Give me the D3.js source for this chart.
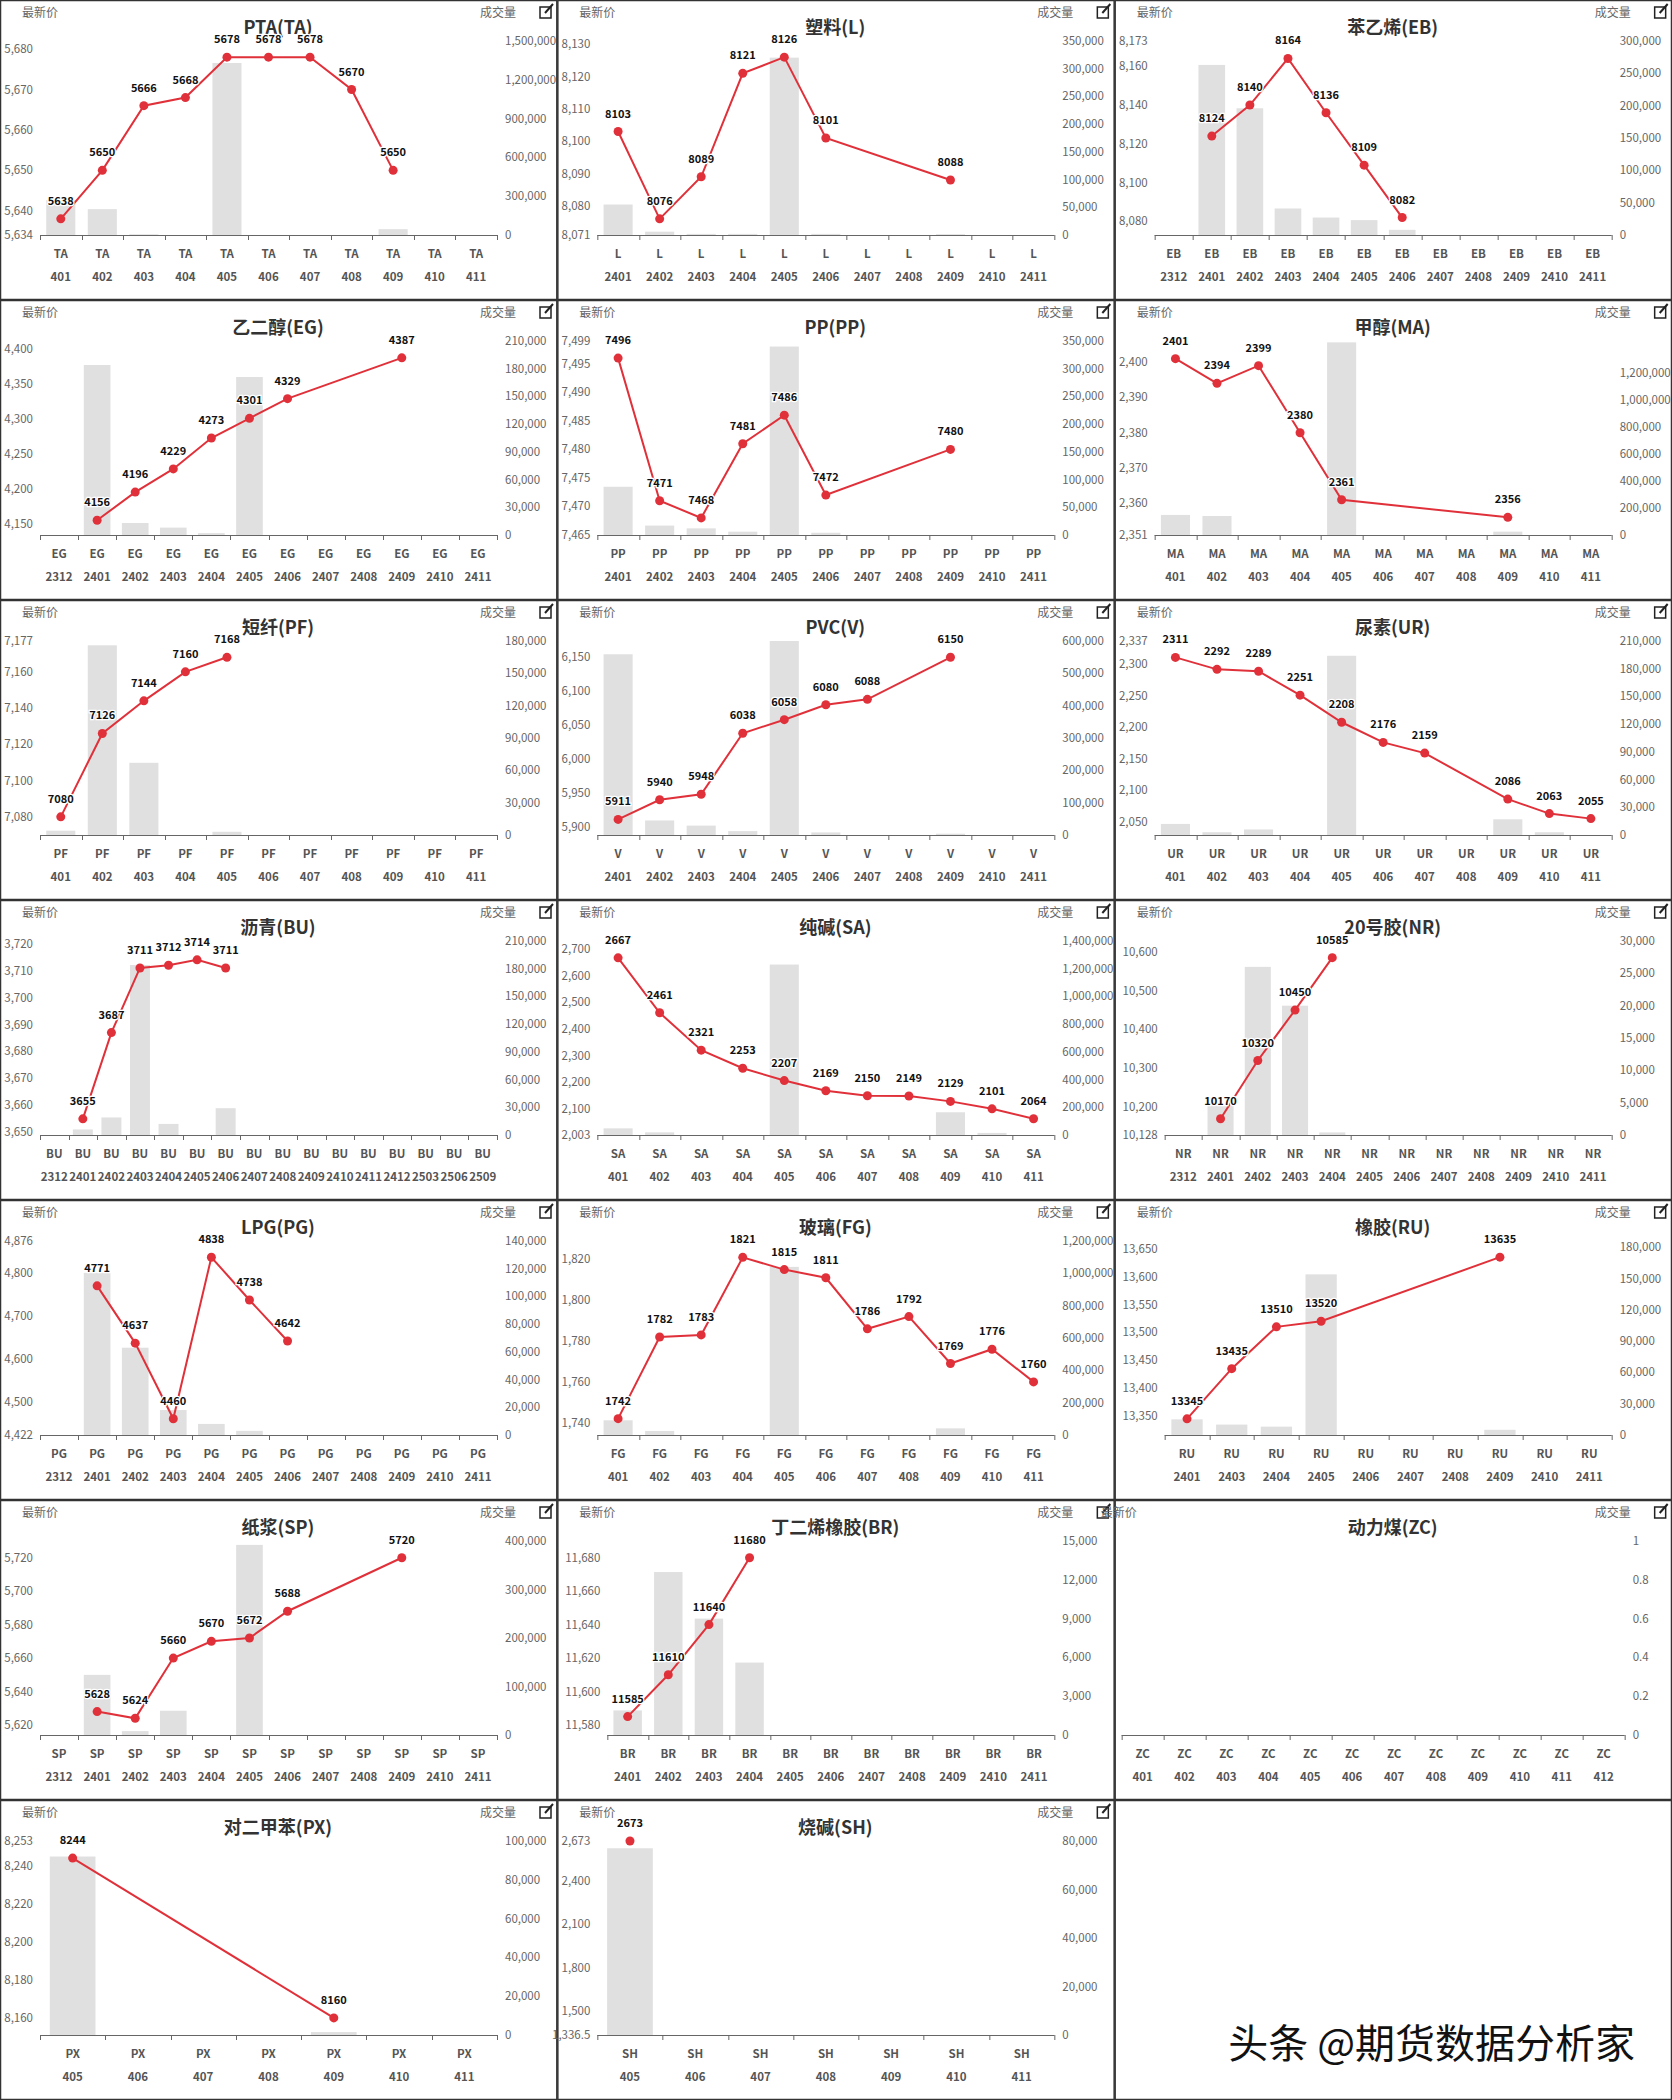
<!DOCTYPE html>
<html><head><meta charset="utf-8">
<script src="https://cdn.jsdelivr.net/npm/d3@7/dist/d3.min.js"></script>
<style>
body{margin:0;background:#fff;font-family:"Noto Sans CJK SC","Noto Sans",sans-serif;}
</style></head>
<body><svg id="chart" width="1672" height="2100"></svg>
<script>
// months per panel
const m401_411 = ['401','402','403','404','405','406','407','408','409','410','411'];
const m2401_2411 = ['2401','2402','2403','2404','2405','2406','2407','2408','2409','2410','2411'];
const m2312_2411 = ['2312'].concat(m2401_2411);
const mBU = ['2312','2401','2402','2403','2404','2405','2406','2407','2408','2409','2410','2411','2412','2503','2506','2509'];
const mRU = ['2401','2403','2404','2405','2406','2407','2408','2409','2410','2411'];
const mZC = m401_411.concat(['412']);
const m405_411 = ['405','406','407','408','409','410','411'];

// latest price (null = no trade) and volume
const taPrice = [5638,5650,5666,5668,5678,5678,5678,5670,5650,null,null];
const taVol = [270000,200000,6000,0,1330000,0,0,0,45000,0,0];
const lPrice = [8103,8076,8089,8121,8126,8101,null,null,8088,null,null];
const lVol = [55000,6000,2000,2000,320000,2000,0,0,1500,0,0];
const ebPrice = [null,8124,8140,8164,8136,8109,8082,null,null,null,null,null];
const ebVol = [0,263000,196000,41000,27000,23000,8000,0,0,0,0,0];
const egPrice = [null,4156,4196,4229,4273,4301,4329,null,null,4387,null,null];
const egVol = [0,184000,13000,8000,2000,171000,0,0,0,0,0,0];
const ppPrice = [7496,7471,7468,7481,7486,7472,null,null,7480,null,null];
const ppVol = [87000,17000,12000,6000,340000,4000,0,0,0,0,0];
const maPrice = [2401,2394,2399,2380,2361,null,null,null,2356,null,null];
const maVol = [149000,141000,0,0,1430000,0,0,0,25000,0,0];
const pfPrice = [7080,7126,7144,7160,7168,null,null,null,null,null,null];
const pfVol = [4000,176000,67000,0,3000,0,0,0,0,0,0];
const vPrice = [5911,5940,5948,6038,6058,6080,6088,null,6150,null,null];
const vVol = [559000,45000,29000,12000,600000,8000,0,0,4000,0,0];
const urPrice = [2311,2292,2289,2251,2208,2176,2159,null,2086,2063,2055];
const urVol = [12000,3000,6000,0,194000,0,0,0,17000,3000,0];
const buPrice = [null,3655,3687,3711,3712,3714,3711,null,null,null,null,null,null,null,null,null];
const buVol = [0,6000,19000,184000,12000,0,29000,0,0,0,0,0,0,0,0,0];
const saPrice = [2667,2461,2321,2253,2207,2169,2150,2149,2129,2101,2064];
const saVol = [48000,19000,0,0,1230000,0,0,0,164000,15000,0];
const nrPrice = [null,10170,10320,10450,10585,null,null,null,null,null,null,null];
const nrVol = [0,4600,26000,20000,400,0,0,0,0,0,0,0];
const pgPrice = [null,4771,4637,4460,4838,4738,4642,null,null,null,null,null];
const pgVol = [0,117000,63000,18000,8000,3000,0,0,0,0,0,0];
const fgPrice = [1742,1782,1783,1821,1815,1811,1786,1792,1769,1776,1760];
const fgVol = [91000,25000,0,0,1040000,0,0,0,41000,0,0];
const ruPrice = [13345,13435,13510,13520,null,null,null,13635,null,null];
const ruVol = [15000,10000,8000,154000,0,0,0,5000,0,0];
const spPrice = [null,5628,5624,5660,5670,5672,5688,null,null,5720,null,null];
const spVol = [0,124000,8000,50000,0,392000,0,0,0,0,0,0];
const brPrice = [11585,11610,11640,11680,null,null,null,null,null,null,null];
const brVol = [1900,12600,9000,5600,0,0,0,0,0,0,0];
const zcPrice = [null,null,null,null,null,null,null,null,null,null,null,null];
const zcVol = [0,0,0,0,0,0,0,0,0,0,0,0];
const pxPrice = [8244,null,null,null,8160,null,null];
const pxVol = [92000,0,0,0,1500,0,0];
const shPrice = [2673,null,null,null,null,null,null];
const shVol = [77000,0,0,0,0,0,0];

// axis ranges and tick labels
const panels = [
  {t:'PTA(TA)',c:'TA',m:m401_411,p:taPrice,v:taVol,ld:[5634,5682],lt:[5634,5640,5650,5660,5670,5680],rd:1500000,rt:[0,300000,600000,900000,1200000,1500000]},
  {t:'塑料(L)',c:'L',m:m2401_2411,p:lPrice,v:lVol,ld:[8071,8131],lt:[8071,8080,8090,8100,8110,8120,8130],rd:350000,rt:[0,50000,100000,150000,200000,250000,300000,350000]},
  {t:'苯乙烯(EB)',c:'EB',m:m2312_2411,p:ebPrice,v:ebVol,ld:[8073,8173],lt:[8080,8100,8120,8140,8160,8173],rd:300000,rt:[0,50000,100000,150000,200000,250000,300000]},
  {t:'乙二醇(EG)',c:'EG',m:m2312_2411,p:egPrice,v:egVol,ld:[4135,4411],lt:[4150,4200,4250,4300,4350,4400],rd:210000,rt:[0,30000,60000,90000,120000,150000,180000,210000]},
  {t:'PP(PP)',c:'PP',m:m2401_2411,p:ppPrice,v:ppVol,ld:[7465,7499],lt:[7465,7470,7475,7480,7485,7490,7495,7499],rd:350000,rt:[0,50000,100000,150000,200000,250000,300000,350000]},
  {t:'甲醇(MA)',c:'MA',m:m401_411,p:maPrice,v:maVol,ld:[2351,2406],lt:[2351,2360,2370,2380,2390,2400],rd:1440000,rt:[0,200000,400000,600000,800000,1000000,1200000]},
  {t:'短纤(PF)',c:'PF',m:m401_411,p:pfPrice,v:pfVol,ld:[7070,7177],lt:[7080,7100,7120,7140,7160,7177],rd:180000,rt:[0,30000,60000,90000,120000,150000,180000]},
  {t:'PVC(V)',c:'V',m:m2401_2411,p:vPrice,v:vVol,ld:[5888,6174],lt:[5900,5950,6000,6050,6100,6150],rd:600000,rt:[0,100000,200000,300000,400000,500000,600000]},
  {t:'尿素(UR)',c:'UR',m:m401_411,p:urPrice,v:urVol,ld:[2029,2337],lt:[2050,2100,2150,2200,2250,2300,2337],rd:210000,rt:[0,30000,60000,90000,120000,150000,180000,210000]},
  {t:'沥青(BU)',c:'BU',m:mBU,p:buPrice,v:buVol,ld:[3649,3721],lt:[3650,3660,3670,3680,3690,3700,3710,3720],rd:210000,rt:[0,30000,60000,90000,120000,150000,180000,210000]},
  {t:'纯碱(SA)',c:'SA',m:m401_411,p:saPrice,v:saVol,ld:[2003,2730],lt:[2003,2100,2200,2300,2400,2500,2600,2700],rd:1400000,rt:[0,200000,400000,600000,800000,1000000,1200000,1400000]},
  {t:'20号胶(NR)',c:'NR',m:m2312_2411,p:nrPrice,v:nrVol,ld:[10128,10628],lt:[10128,10200,10300,10400,10500,10600],rd:30000,rt:[0,5000,10000,15000,20000,25000,30000]},
  {t:'LPG(PG)',c:'PG',m:m2312_2411,p:pgPrice,v:pgVol,ld:[4422,4876],lt:[4422,4500,4600,4700,4800,4876],rd:140000,rt:[0,20000,40000,60000,80000,100000,120000,140000]},
  {t:'玻璃(FG)',c:'FG',m:m401_411,p:fgPrice,v:fgVol,ld:[1734,1829],lt:[1740,1760,1780,1800,1820],rd:1200000,rt:[0,200000,400000,600000,800000,1000000,1200000]},
  {t:'橡胶(RU)',c:'RU',m:mRU,p:ruPrice,v:ruVol,ld:[13316,13664],lt:[13350,13400,13450,13500,13550,13600,13650],rd:186000,rt:[0,30000,60000,90000,120000,150000,180000]},
  {t:'纸浆(SP)',c:'SP',m:m2312_2411,p:spPrice,v:spVol,ld:[5614,5730],lt:[5620,5640,5660,5680,5700,5720],rd:400000,rt:[0,100000,200000,300000,400000]},
  {t:'丁二烯橡胶(BR)',c:'BR',m:m2401_2411,p:brPrice,v:brVol,ld:[11574,11690],lt:[11580,11600,11620,11640,11660,11680],rd:15000,rt:[0,3000,6000,9000,12000,15000]},
  {t:'动力煤(ZC)',c:'ZC',m:mZC,p:zcPrice,v:zcVol,ld:null,lt:[],rd:1,rt:[0,0.2,0.4,0.6,0.8,1]},
  {t:'对二甲苯(PX)',c:'PX',m:m405_411,p:pxPrice,v:pxVol,ld:[8151,8253],lt:[8160,8180,8200,8220,8240,8253],rd:100000,rt:[0,20000,40000,60000,80000,100000]},
  {t:'烧碱(SH)',c:'SH',m:m405_411,p:shPrice,v:shVol,ld:[1336.5,2673],lt:[1336.5,1500,1800,2100,2400,2673],rd:80000,rt:[0,20000,40000,60000,80000]}
];

const PW = 1672/3, PH = 300;
const svg = d3.select('#chart');
const fmt = d3.format(',');

panels.forEach(function(d, i) {
  const col = i % 3, row = Math.floor(i / 3);
  const g = svg.append('g').attr('transform', 'translate(' + (col*PW) + ',' + (row*PH) + ')');
  g.append('rect').attr('x', 0.5).attr('y', 0.5).attr('width', PW-1).attr('height', PH-1)
    .attr('fill', 'none').attr('stroke', '#333').attr('stroke-width', 1.5);

  // wider left gutter for five-digit prices
  const L = !d.ld ? 7 : (d.ld[1] >= 10000 ? 50 : 40);
  const R = d.ld ? 497 : 510, T = 41, B = 235;
  const x = d3.scaleBand().domain(d3.range(d.m.length)).range([L, R]).paddingInner(0.3).paddingOuter(0.15);
  const step = (R - L) / d.m.length;
  const yR = d3.scaleLinear().domain([0, d.rd]).range([B, T]);

  g.append('text').attr('x', L === 7 ? -14 : 22).attr('y', 17).attr('font-size', 12).attr('fill', '#666').text('最新价');
  g.append('text').attr('x', 480).attr('y', 17).attr('font-size', 12).attr('fill', '#666').text('成交量');
  // edit icon
  g.append('rect').attr('x', 540).attr('y', 7).attr('width', 11).attr('height', 11).attr('fill', 'none').attr('stroke', '#222').attr('stroke-width', 1.5);
  g.append('line').attr('x1', 545).attr('y1', 13).attr('x2', 553).attr('y2', 4).attr('stroke', '#222').attr('stroke-width', 2);

  g.append('text').attr('x', 278).attr('y', 34).attr('text-anchor', 'middle').attr('font-size', 18)
    .attr('font-weight', 'bold').attr('fill', '#333').text(d.t);

  // bars
  g.selectAll('rect.bar').data(d.v).join('rect').attr('class', 'bar')
    .attr('x', (v, j) => x(j)).attr('width', x.bandwidth())
    .attr('y', v => yR(v)).attr('height', v => B - yR(v)).attr('fill', '#e0e0e0');

  // right axis labels
  g.selectAll('text.rt').data(d.rt).join('text').attr('class', 'rt')
    .attr('x', R + 8).attr('y', v => yR(v) + 4).attr('font-size', 11.5).attr('fill', '#666')
    .text(v => d.rd === 1 ? String(v) : fmt(v));

  // x axis
  g.append('line').attr('x1', L).attr('x2', R).attr('y1', B + 0.5).attr('y2', B + 0.5).attr('stroke', '#666');
  d3.range(d.m.length + 1).forEach(function(k) {
    const tx = Math.round(L + k * step) + 0.5;
    g.append('line').attr('x1', tx).attr('x2', tx).attr('y1', B).attr('y2', B + 5).attr('stroke', '#666');
  });
  d.m.forEach(function(mm, j) {
    const cx = x(j) + x.bandwidth() / 2;
    g.append('text').attr('x', cx).attr('y', 258).attr('text-anchor', 'middle').attr('font-size', 11.5)
      .attr('font-weight', 'bold').attr('fill', '#555').text(d.c);
    g.append('text').attr('x', cx).attr('y', 281).attr('text-anchor', 'middle').attr('font-size', 11.5)
      .attr('font-weight', 'bold').attr('fill', '#555').text(mm);
  });

  if (!d.ld) return;
  const yL = d3.scaleLinear().domain(d.ld).range([B, T]);
  g.selectAll('text.lt').data(d.lt).join('text').attr('class', 'lt')
    .attr('x', L - 7).attr('y', v => yL(v) + 4).attr('text-anchor', 'end').attr('font-size', 11.5)
    .attr('fill', '#666').text(v => fmt(v));

  const pts = d.p.map((v, j) => ({v: v, j: j})).filter(o => o.v !== null);
  const line = d3.line().x(o => x(o.j) + x.bandwidth() / 2).y(o => yL(o.v));
  g.append('path').attr('d', line(pts)).attr('fill', 'none').attr('stroke', '#e0313a').attr('stroke-width', 2);
  g.selectAll('circle.pt').data(pts).join('circle').attr('class', 'pt')
    .attr('cx', o => x(o.j) + x.bandwidth() / 2).attr('cy', o => yL(o.v)).attr('r', 4.5).attr('fill', '#e0313a');
  g.selectAll('text.pl').data(pts).join('text').attr('class', 'pl')
    .attr('x', o => x(o.j) + x.bandwidth() / 2).attr('y', o => yL(o.v) - 14)
    .attr('text-anchor', 'middle').attr('font-size', 11).attr('font-weight', 'bold').attr('fill', '#111')
    .attr('stroke', '#fff').attr('stroke-width', 2.5).attr('paint-order', 'stroke').text(o => o.v);
});

// last empty cell with watermark
svg.append('rect').attr('x', 2*PW + 0.5).attr('y', 6*PH + 0.5).attr('width', PW - 1).attr('height', PH - 1)
  .attr('fill', 'none').attr('stroke', '#333').attr('stroke-width', 1.5);
svg.append('text').attr('x', 1635).attr('y', 2058).attr('text-anchor', 'end').attr('font-size', 40)
  .attr('fill', '#111').text('头条 @期货数据分析家');
</script></body></html>
